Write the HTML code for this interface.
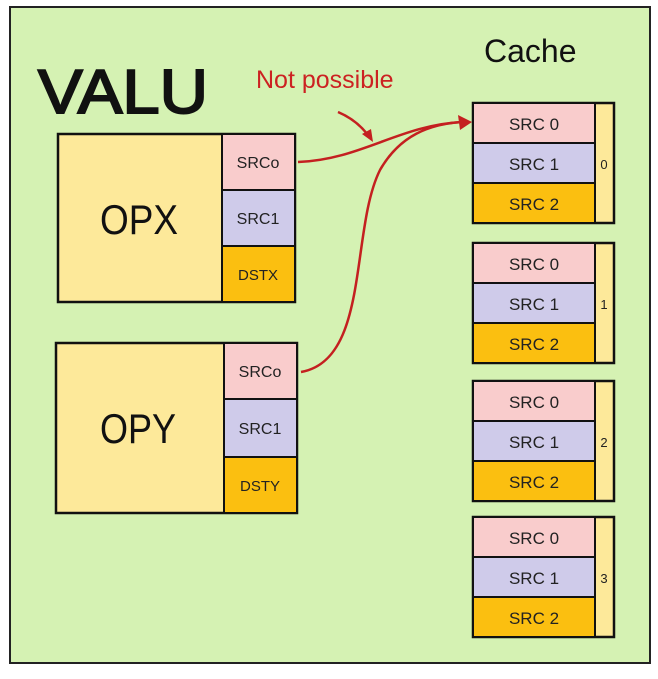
<!DOCTYPE html>
<html><head><style>
body{margin:0;width:658px;height:674px;background:#fff;font-family:"Liberation Sans",sans-serif}
</style></head><body>
<svg width="658" height="674" xmlns="http://www.w3.org/2000/svg" font-family="Liberation Sans, sans-serif">
<rect x="10" y="7" width="640" height="656" fill="#d5f2b3" stroke="#222" stroke-width="2"/>
<text x="38" y="113" font-size="62" fill="#111" stroke="#111" stroke-width="2" textLength="170" lengthAdjust="spacingAndGlyphs">VALU</text>
<text x="484" y="62" font-size="32" fill="#111">Cache</text>
<text x="256" y="88" font-size="25" fill="#cc2222">Not possible</text>
<!-- OPX -->
<rect x="58" y="134" width="237" height="168" fill="#fde99a" stroke="#111" stroke-width="2.5"/>
<rect x="222" y="134" width="73" height="56" fill="#f9cccc" stroke="#111" stroke-width="2"/>
<rect x="222" y="190" width="73" height="56" fill="#cfcbea" stroke="#111" stroke-width="2"/>
<rect x="222" y="246" width="73" height="56" fill="#fbbf10" stroke="#111" stroke-width="2"/>
<text x="100" y="234" font-size="42" fill="#111" textLength="78" lengthAdjust="spacingAndGlyphs">OPX</text>
<text x="258" y="168" font-size="16" text-anchor="middle" fill="#222">SRCo</text>
<text x="258" y="224" font-size="16" text-anchor="middle" fill="#222">SRC1</text>
<text x="258" y="280" font-size="15" text-anchor="middle" fill="#222">DSTX</text>
<!-- OPY -->
<rect x="56" y="343" width="241" height="170" fill="#fde99a" stroke="#111" stroke-width="2.5"/>
<rect x="224" y="343" width="73" height="56" fill="#f9cccc" stroke="#111" stroke-width="2"/>
<rect x="224" y="399" width="73" height="58" fill="#cfcbea" stroke="#111" stroke-width="2"/>
<rect x="224" y="457" width="73" height="56" fill="#fbbf10" stroke="#111" stroke-width="2"/>
<text x="100" y="443" font-size="42" fill="#111" textLength="76" lengthAdjust="spacingAndGlyphs">OPY</text>
<text x="260" y="377" font-size="16" text-anchor="middle" fill="#222">SRCo</text>
<text x="260" y="434" font-size="16" text-anchor="middle" fill="#222">SRC1</text>
<text x="260" y="491" font-size="15" text-anchor="middle" fill="#222">DSTY</text>
<!-- cache groups -->
<g id="g0">
<rect x="473" y="103" width="141" height="120" fill="#fde99a" stroke="#111" stroke-width="2.5"/>
<rect x="473" y="103" width="122" height="40" fill="#f9cccc" stroke="#111" stroke-width="2"/>
<rect x="473" y="143" width="122" height="40" fill="#cfcbea" stroke="#111" stroke-width="2"/>
<rect x="473" y="183" width="122" height="40" fill="#fbbf10" stroke="#111" stroke-width="2"/>
<text x="534" y="130" font-size="17" text-anchor="middle" fill="#222">SRC 0</text>
<text x="534" y="170" font-size="17" text-anchor="middle" fill="#222">SRC 1</text>
<text x="534" y="210" font-size="17" text-anchor="middle" fill="#222">SRC 2</text>
</g>
<use href="#g0" y="140"/>
<use href="#g0" y="278"/>
<use href="#g0" y="414"/>
<text x="604" y="169" font-size="13" text-anchor="middle" fill="#222">0</text>
<text x="604" y="309" font-size="13" text-anchor="middle" fill="#222">1</text>
<text x="604" y="447" font-size="13" text-anchor="middle" fill="#222">2</text>
<text x="604" y="583" font-size="13" text-anchor="middle" fill="#222">3</text>
<!-- arrows -->
<g fill="none" stroke="#c42020" stroke-width="2.5">
<path d="M298,162 C360,160 400,125 462,122"/>
<path d="M301,372 C370,360 350,230 380,170 C400,135 430,124 462,122"/>
<path d="M338,112 C352,118 362,126 370,138"/>
</g>
<polygon points="472,122 458,115 460,130" fill="#c42020"/>
<polygon points="373,142 362,134 371,129" fill="#c42020"/>
</svg>
</body></html>
